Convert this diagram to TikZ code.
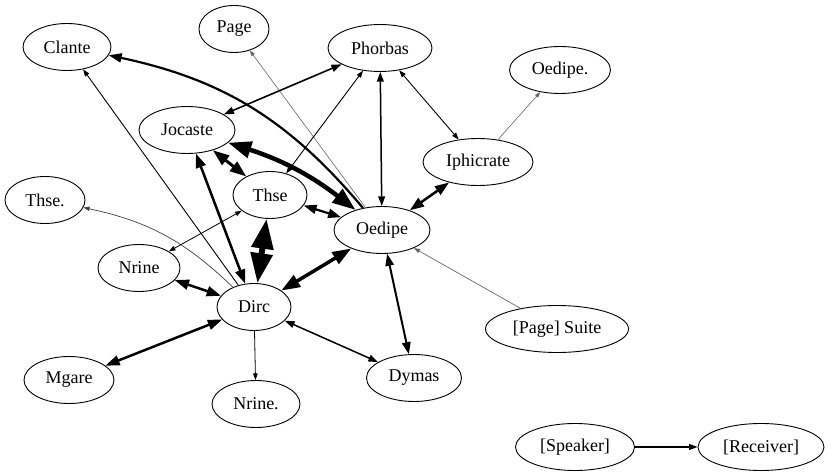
\documentclass[tikz,border=0pt]{standalone}
\usepackage{fontspec}
\newfontfamily\gvfont{LiberationSerif}[Extension=.ttf, UprightFont=*-Regular]
\usetikzlibrary{arrows.meta,shapes.geometric}
\begin{document}
\begin{tikzpicture}[x=1pt,y=-1pt,
  nd/.style={draw, ellipse, line width=0.9pt, inner sep=0pt, minimum height=47pt,
    font=\gvfont\fontsize{18}{20}\selectfont},
  gv/.tip={Triangle[length=3pt 4.5,width=2pt 3.2]},
  both/.style={gv-gv, line width=#1},
  one/.style={-gv, line width=#1},
  faint/.style={draw=black!60}
]
\useasboundingbox (0,0) rectangle (830,476);
% nodes
\node[nd, minimum width=88pt]  (clante)    at (67,47)   {Clante};
\node[nd, minimum width=70pt]  (page)      at (234,29)  {Page};
\node[nd, minimum width=104pt] (phorbas)   at (380,48)  {Phorbas};
\node[nd, minimum width=101pt] (oedipedot) at (560,70)  {Oedipe.};
\node[nd, minimum width=96pt]  (jocaste)   at (187,130) {Jocaste};
\node[nd, minimum width=110pt] (iphicrate) at (478,162) {Iphicrate};
\node[nd, minimum width=80pt]  (thsedot)   at (45,200)  {Thse.};
\node[nd, minimum width=74pt]  (thse)      at (270,195) {Thse};
\node[nd, minimum width=96pt]  (oedipe)    at (382,230) {Oedipe};
\node[nd, minimum width=82pt]  (nrine)     at (139,268) {Nrine};
\node[nd, minimum width=74pt]  (dirc)      at (254,307) {Dirc};
\node[nd, minimum width=90pt]  (mgare)     at (69,380)  {Mgare};
\node[nd, minimum width=88pt]  (nrinedot)  at (256,404) {Nrine.};
\node[nd, minimum width=95pt]  (dymas)     at (414,378) {Dymas};
\node[nd, minimum width=143pt] (suite)     at (557,329) {[Page] Suite};
\node[nd, minimum width=119pt] (speaker)   at (575,447) {[Speaker]};
\node[nd, minimum width=126pt] (receiver)  at (761,447) {[Receiver]};
% edges
\draw[one=2.2pt] (oedipe) to[bend right=19] (clante);
\draw[one=0.6pt, faint] (oedipe) -- (page);
\draw[both=1.6pt] (jocaste) -- (phorbas);
\draw[both=0.9pt] (thse) -- (phorbas);
\draw[both=1.5pt] (oedipe) -- (phorbas);
\draw[both=0.9pt] (phorbas) -- (iphicrate);
\draw[one=0.6pt, faint] (iphicrate) -- (oedipedot);
\draw[both=2.5pt] (iphicrate) -- (oedipe);
\draw[both=4.5pt] (jocaste) to[bend left=10] (oedipe);
\draw[both=3pt] (jocaste) -- (thse);
\draw[both=2.2pt] (thse) -- (oedipe);
\draw[both=6pt] (thse) -- (dirc);
\draw[both=3.5pt] (dirc) -- (oedipe);
\draw[both=2.5pt] (dirc) -- (jocaste);
\draw[one=0.9pt] (dirc) -- (clante);
\draw[one=0.7pt, draw=black!75] (dirc) to[bend right=16] (thsedot);
\draw[both=0.8pt] (nrine) -- (thse);
\draw[both=2.5pt] (nrine) -- (dirc);
\draw[both=2.5pt] (mgare) -- (dirc);
\draw[one=0.8pt] (dirc) -- (nrinedot);
\draw[both=1.5pt] (dirc) -- (dymas);
\draw[both=2pt] (oedipe) -- (dymas);
\draw[one=0.7pt, faint] (suite) -- (oedipe);
\draw[one=1.2pt] (speaker) -- (receiver);
\end{tikzpicture}
\end{document}
